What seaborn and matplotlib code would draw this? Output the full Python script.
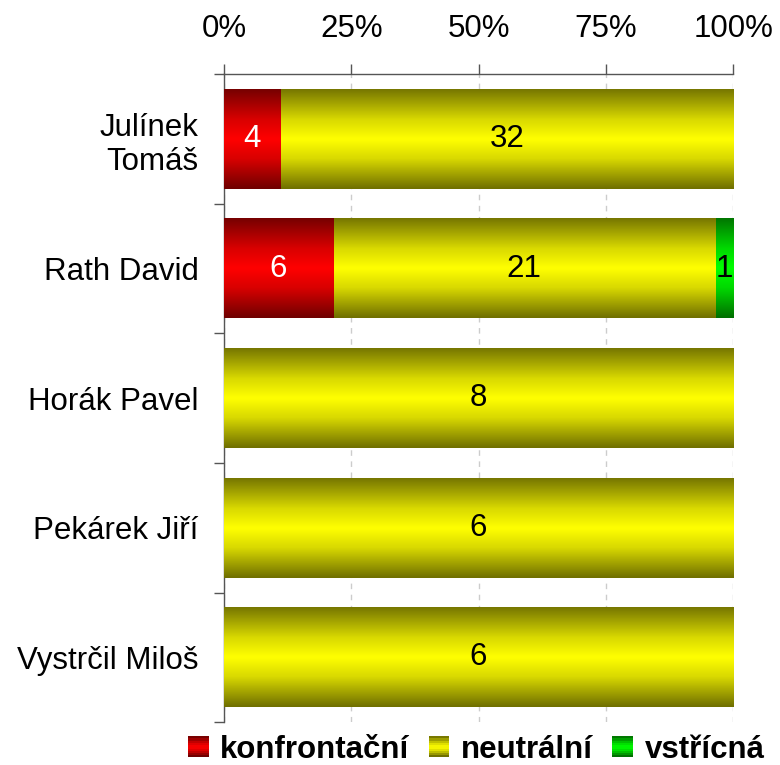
import numpy as np
import pandas as pd
import seaborn as sns
import matplotlib.pyplot as plt
from matplotlib.patches import Rectangle
from matplotlib.legend_handler import HandlerBase

# politicians and counts of statements by tone
names = ["Julínek\nTomáš", "Rath David", "Horák Pavel", "Pekárek Jiří", "Vystrčil Miloš"]
konfrontacni = [4, 6, 0, 0, 0]
neutralni = [32, 21, 8, 6, 6]
vstricna = [0, 1, 0, 0, 0]
series_names = ["konfrontační", "neutrální", "vstřícná"]
pct_ticks = [0, 25, 50, 75, 100]

base_colors = {"konfrontační": np.array([1.0, 0.0, 0.0]),
               "neutrální": np.array([1.0, 1.0, 0.0]),
               "vstřícná": np.array([0.0, 1.0, 0.0])}
label_colors = {"konfrontační": "white", "neutrální": "black", "vstřícná": "black"}
FS = 22.5

# brightness profile from top to bottom of a bar (dark - bright - dark)
prof_pos = [0.0, 0.3, 0.5, 0.7, 1.0]
prof_val = [0.47, 0.85, 1.0, 0.85, 0.44]


def gradient_image(color, n=64):
    t = np.linspace(0, 1, n)
    b = np.interp(t, prof_pos, prof_val)
    return (b[:, None, None] * color[None, None, :]).clip(0, 1)


class GradientHandler(HandlerBase):
    def create_artists(self, legend, orig_handle, xdescent, ydescent,
                       width, height, fontsize, trans):
        color = np.array(orig_handle.get_facecolor()[:3])
        side = height * 0.95
        x0 = -xdescent + (width - side) / 2
        y0 = -ydescent + (height - side) / 2
        n = 10
        arts = []
        t = np.linspace(0, 1, n)
        b = np.interp(t, prof_pos, prof_val)
        for i in range(n):
            r = Rectangle((x0, y0 + side - (i + 1) * side / n), side, side / n,
                          facecolor=(b[i] * color).clip(0, 1), edgecolor="none",
                          transform=trans)
            arts.append(r)
        return arts


counts = pd.DataFrame({"name": names, "konfrontační": konfrontacni,
                       "neutrální": neutralni, "vstřícná": vstricna})
total = counts[series_names].sum(axis=1)
cum = counts[series_names].cumsum(axis=1).div(total, axis=0) * 100
cum["name"] = names

sns.set_theme(style="white")
plt.rcParams["font.family"] = ["Liberation Sans", "DejaVu Sans"]
plt.rcParams["text.color"] = "black"

fig, ax = plt.subplots(figsize=(7.8, 7.65), dpi=100)
fig.subplots_adjust(left=0.287, right=0.94, top=0.903, bottom=0.056)

# stacked bars: draw cumulative totals from the last series to the first
z = 3
for i in reversed(range(len(series_names))):
    s = series_names[i]
    n_before = len(ax.patches)
    sns.barplot(data=cum, x=s, y="name", orient="h", color=base_colors[s],
                saturation=1, width=0.77, ax=ax)
    new = ax.patches[n_before:]
    for j, p in enumerate(new):
        p.set_visible(False)
        x0, x1 = p.get_x(), p.get_x() + p.get_width()
        y0, y1 = p.get_y(), p.get_y() + p.get_height()
        if x1 - x0 <= 0:
            continue
        ax.imshow(gradient_image(base_colors[s]), extent=(x0, x1, y1, y0),
                  aspect="auto", interpolation="bilinear", zorder=z)
        start = 0 if i == 0 else cum[series_names[i - 1]].iloc[j]
        val = counts[s].iloc[j]
        if val > 0:
            ax.text((start + x1) / 2, (y0 + y1) / 2, str(val), ha="center",
                    va="center", fontsize=FS, color=label_colors[s], zorder=10)
    z += 1

ax.set_xlim(0, 100)
ax.set_ylim(4.5, -0.5)
ax.set_xlabel("")
ax.set_ylabel("")

ax.xaxis.tick_top()
ax.set_xticks(pct_ticks)
ax.set_xticklabels([f"{v}%" for v in pct_ticks], fontsize=FS)
ax.tick_params(axis="x", length=7, width=1, color="#555555", labelcolor="black", pad=15)
ax.grid(axis="x", linestyle=(0, (4, 4)), color="#cccccc", linewidth=1)
ax.grid(axis="y", visible=False)
ax.set_axisbelow(True)

ax.set_yticks(np.arange(-0.5, 5), minor=True)
ax.tick_params(axis="y", which="major", length=0, pad=18, labelsize=FS, labelcolor="black")
ax.tick_params(axis="y", which="minor", length=7, width=1, color="#555555", left=True)

for side in ["right", "bottom"]:
    ax.spines[side].set_visible(False)
for side in ["top", "left"]:
    ax.spines[side].set_color("#555555")
    ax.spines[side].set_linewidth(1)

handles = [Rectangle((0, 0), 1, 1, facecolor=base_colors[s]) for s in series_names]
fig.legend(handles, series_names, handler_map={Rectangle: GradientHandler()},
           loc="center", bbox_to_anchor=(0.61, 0.02), ncol=3, frameon=False,
           handlelength=0.7, handleheight=0.7, handletextpad=0.35, columnspacing=0.6,
           prop={"weight": "bold", "size": FS})

plt.savefig("out.png", dpi=100)
